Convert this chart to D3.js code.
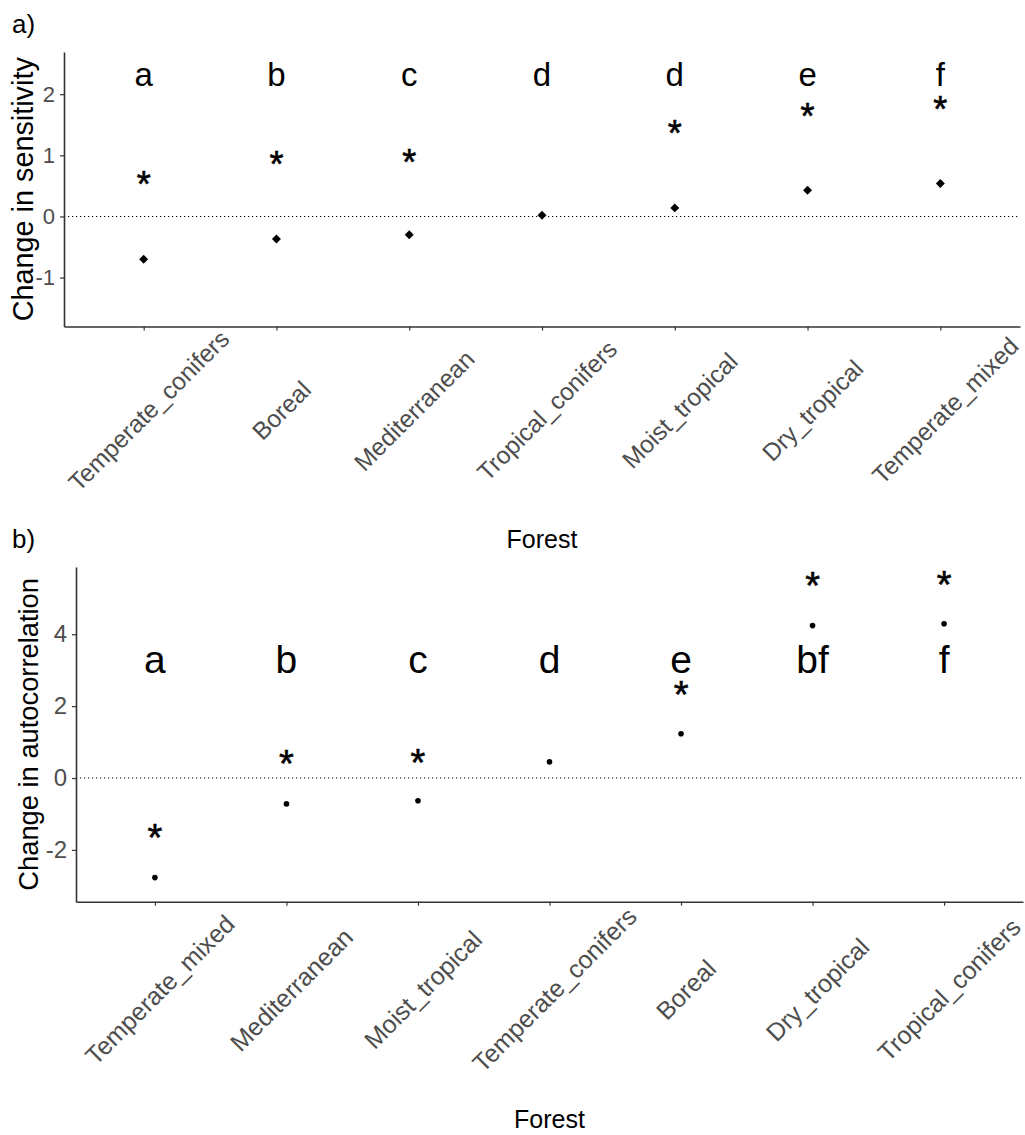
<!DOCTYPE html>
<html>
<head>
<meta charset="utf-8">
<script src="https://cdn.jsdelivr.net/npm/d3@7"></script>
<style>
  html, body { margin: 0; padding: 0; background: #fff; }
  text { font-family: "Liberation Sans", Arial, Helvetica, sans-serif; }
</style>
</head>
<body>
<svg id="chart" width="1025" height="1135"></svg>
<script>
// ---- Panel a: change in sensitivity by forest type ----
const forestsA = ["Temperate_conifers", "Boreal", "Mediterranean", "Tropical_conifers",
                  "Moist_tropical", "Dry_tropical", "Temperate_mixed"];
const sensitivity = [-0.70, -0.37, -0.30, 0.02, 0.14, 0.43, 0.54];
// height of the significance asterisk (null = not significant)
const sensitivityStar = [0.61, 0.94, 0.98, null, 1.45, 1.72, 1.84];
const groupsA = ["a", "b", "c", "d", "d", "e", "f"];
const ticksA = [-1, 0, 1, 2];

// ---- Panel b: change in autocorrelation by forest type ----
const forestsB = ["Temperate_mixed", "Mediterranean", "Moist_tropical", "Temperate_conifers",
                  "Boreal", "Dry_tropical", "Tropical_conifers"];
const autocorrelation = [-2.77, -0.72, -0.63, 0.45, 1.23, 4.24, 4.29];
const autocorrelationStar = [-1.49, 0.56, 0.59, null, 2.48, 5.51, 5.54];
const groupsB = ["a", "b", "c", "d", "e", "bf", "f"];
const ticksB = [-2, 0, 2, 4];

const svg = d3.select("#chart");

const panels = [
  {
    tag: "a)", tagX: 12, tagY: 33, tagSize: 26,
    cats: forestsA, values: sensitivity, stars: sensitivityStar, groups: groupsA, ticks: ticksA,
    yTitle: "Change in sensitivity",
    left: 64, right: 1020, top: 52, bottom: 326.5, yDomain: [-1.80, 2.69],
    letterY: 2.14, letterSize: 33, starSize: 36,
    yTickSize: 22, xTickSize: 24.5, xLabelOffset: 84,
    yTitleX: 33, yTitleSize: 28.8, xTitleY: 548, xTitleSize: 25,
    point: "diamond"
  },
  {
    tag: "b)", tagX: 12, tagY: 548, tagSize: 26,
    cats: forestsB, values: autocorrelation, stars: autocorrelationStar, groups: groupsB, ticks: ticksB,
    yTitle: "Change in autocorrelation",
    left: 76, right: 1023, top: 567, bottom: 901.7, yDomain: [-3.44, 5.87],
    letterY: 2.91, letterSize: 39, starSize: 38,
    yTickSize: 24, xTickSize: 25, xLabelOffset: 88,
    yTitleX: 38, yTitleSize: 27.3, xTitleY: 1128, xTitleSize: 25,
    point: "circle"
  }
];

panels.forEach(p => {
  const g = svg.append("g");

  const x = d3.scalePoint().domain(p.cats).range([p.left, p.right]).padding(0.6);
  const y = d3.scaleLinear().domain(p.yDomain).range([p.bottom, p.top]);

  // zero reference line
  g.append("line")
    .attr("x1", p.left).attr("x2", p.right)
    .attr("y1", y(0)).attr("y2", y(0))
    .attr("stroke", "#000").attr("stroke-width", 1.1)
    .attr("stroke-dasharray", "1.2 2.8");

  // y axis
  const yAxis = g.append("g")
    .attr("transform", `translate(${p.left},0)`)
    .call(d3.axisLeft(y).tickValues(p.ticks).tickFormat(d => String(d))
      .tickSize(4).tickSizeOuter(0).tickPadding(5));
  yAxis.select(".domain").attr("stroke", "#333").attr("stroke-width", 1.6);
  yAxis.selectAll(".tick line").attr("stroke", "#333").attr("stroke-width", 1.2);
  yAxis.selectAll(".tick text")
    .attr("fill", "#4d4d4d").attr("font-size", p.yTickSize)
    .attr("font-family", "Liberation Sans, Arial, sans-serif");

  // x axis with rotated category labels
  const xAxis = g.append("g")
    .attr("transform", `translate(0,${p.bottom})`)
    .call(d3.axisBottom(x).tickSize(4).tickSizeOuter(0));
  xAxis.select(".domain").attr("stroke", "#333").attr("stroke-width", 1.6);
  xAxis.selectAll(".tick line").attr("stroke", "#333").attr("stroke-width", 1.2);
  xAxis.selectAll(".tick text")
    .attr("fill", "#4d4d4d").attr("font-size", p.xTickSize)
    .attr("font-family", "Liberation Sans, Arial, sans-serif")
    .attr("text-anchor", "middle")
    .attr("x", 4.5).attr("y", p.xLabelOffset).attr("dy", "0.35em")
    .attr("transform", `rotate(-45, 4.5, ${p.xLabelOffset})`);

  // axis titles
  g.append("text")
    .attr("transform", `translate(${p.yTitleX},${(p.top + p.bottom) / 2}) rotate(-90)`)
    .attr("text-anchor", "middle").attr("font-size", p.yTitleSize).attr("fill", "#000")
    .text(p.yTitle);
  g.append("text")
    .attr("x", (p.left + p.right) / 2).attr("y", p.xTitleY)
    .attr("text-anchor", "middle").attr("font-size", p.xTitleSize).attr("fill", "#000")
    .text("Forest");

  // panel tag
  g.append("text")
    .attr("x", p.tagX).attr("y", p.tagY)
    .attr("font-size", p.tagSize).attr("fill", "#000")
    .text(p.tag);

  const rows = p.cats.map((c, i) => ({ cat: c, v: p.values[i], star: p.stars[i], grp: p.groups[i] }));

  // group letters
  g.selectAll("text.grp").data(rows).join("text")
    .attr("class", "grp")
    .attr("x", d => x(d.cat)).attr("y", y(p.letterY))
    .attr("text-anchor", "middle").attr("font-size", p.letterSize).attr("fill", "#000")
    .text(d => d.grp);

  // significance asterisks
  g.selectAll("text.star").data(rows.filter(d => d.star !== null)).join("text")
    .attr("class", "star")
    .attr("x", d => x(d.cat)).attr("y", d => y(d.star) + 0.5 * p.starSize)
    .attr("text-anchor", "middle").attr("font-size", p.starSize).attr("fill", "#000")
    .attr("stroke", "#000").attr("stroke-width", 0.6)
    .text("*");

  // point estimates
  if (p.point === "diamond") {
    const sym = d3.symbol().type(d3.symbolSquare).size(40);
    g.selectAll("path.pt").data(rows).join("path")
      .attr("class", "pt")
      .attr("d", sym)
      .attr("transform", d => `translate(${x(d.cat)},${y(d.v)}) rotate(45)`)
      .attr("fill", "#000");
  } else {
    g.selectAll("circle.pt").data(rows).join("circle")
      .attr("class", "pt")
      .attr("cx", d => x(d.cat)).attr("cy", d => y(d.v)).attr("r", 2.8)
      .attr("fill", "#000");
  }
});
</script>
</body>
</html>
